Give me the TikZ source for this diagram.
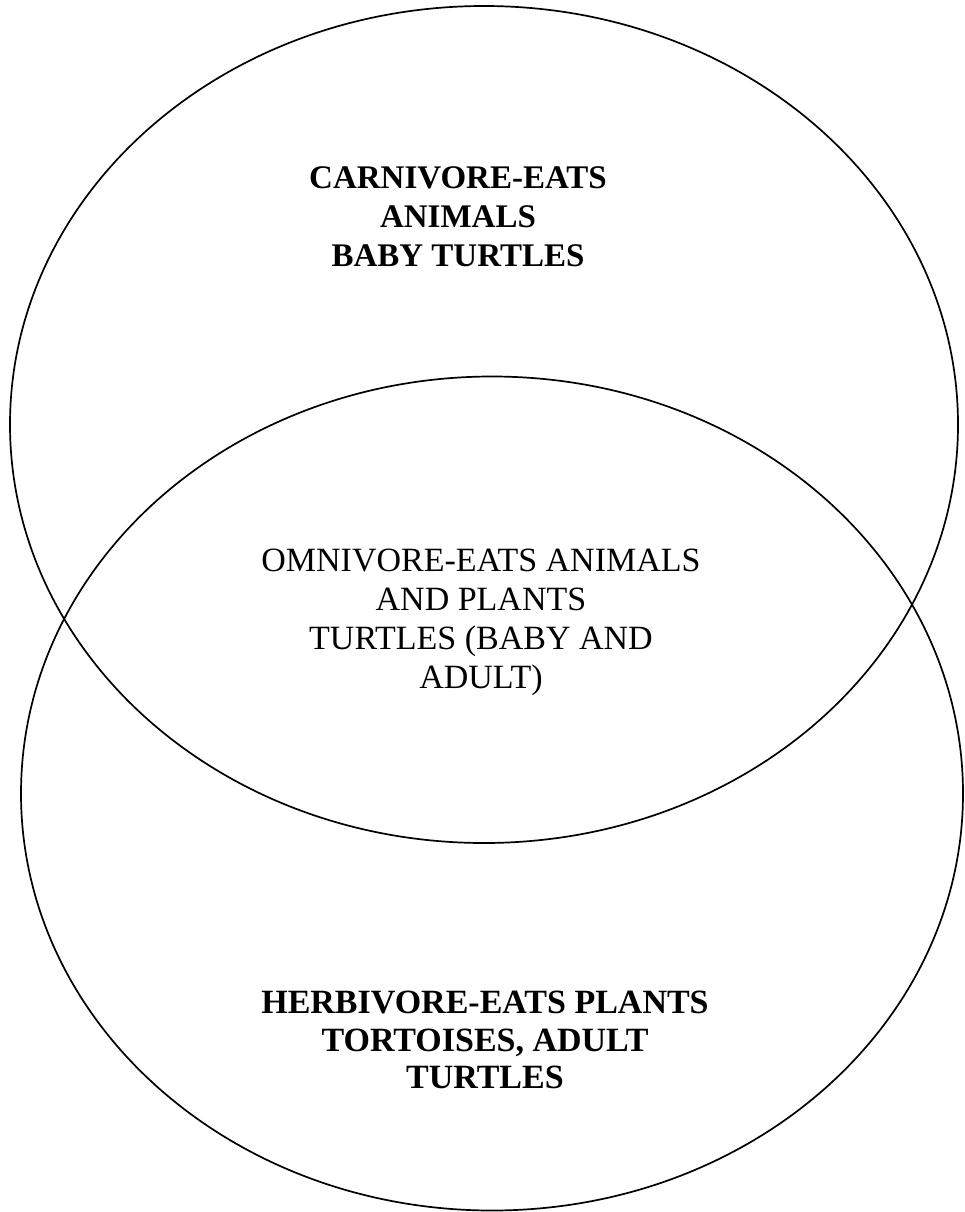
\documentclass[tikz,border=0pt]{standalone}
\usepackage{fontspec}
\setmainfont{Liberation Serif}
\begin{document}
\begin{tikzpicture}[x=1pt,y=-1pt,
  ring/.style={draw=black,line width=1.7pt},
  lbl/.style={align=center,inner sep=0pt,font=\fontsize{34}{39}\selectfont},
  blbl/.style={align=center,inner sep=0pt,font=\fontsize{33}{39}\selectfont\bfseries},
  blbltwo/.style={align=center,inner sep=0pt,font=\fontsize{34}{37.5}\selectfont\bfseries}]
\useasboundingbox[fill=white] (0,0) rectangle (964,1212);
\draw[ring] (484,424.5) ellipse [x radius=474, y radius=418.5];
\draw[ring] (492,793.5) ellipse [x radius=471, y radius=417];
\node[blbl] (carn) at (458,217) {CARNIVORE-EATS\\ANIMALS\\BABY TURTLES};
\node[lbl] (omni) at (481,622) {OMNIVORE-EATS ANIMALS\\AND PLANTS\\TURTLES (BABY AND\\ADULT)};
\node[blbltwo] (herb) at (485,1040) {HERBIVORE-EATS PLANTS\\TORTOISES, ADULT\\TURTLES};
\end{tikzpicture}
\end{document}
